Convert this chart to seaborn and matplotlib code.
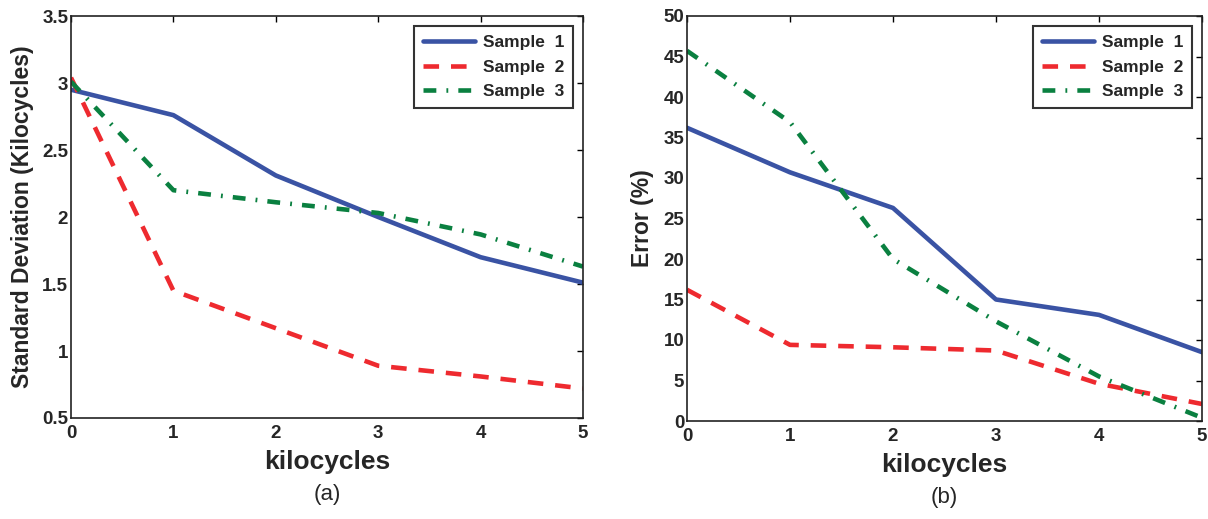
import matplotlib
matplotlib.use('Agg')
import matplotlib.pyplot as plt
import seaborn as sns
import pandas as pd

kilocycles = [0, 1, 2, 3, 4, 5]

# panel (a): standard deviation (kilocycles)
std_s1 = [2.95, 2.76, 2.31, 2.00, 1.70, 1.51]
std_s2 = [3.04, 1.45, 1.17, 0.89, 0.81, 0.72]
std_s3 = [3.01, 2.20, 2.11, 2.03, 1.87, 1.63]

# panel (b): error (%)
err_s1 = [36.2, 30.7, 26.3, 15.0, 13.1, 8.5]
err_s2 = [16.2, 9.4, 9.1, 8.7, 4.6, 2.1]
err_s3 = [45.7, 36.9, 20.0, 12.3, 5.5, 0.4]

series_names = ['Sample  1', 'Sample  2', 'Sample  3']
colors = ['#3a53a4', '#ee2a2f', '#0a8040']
styles = ['-', (0, (3.4, 2.6)), (0, (2.8, 2.2, 0.4, 2.2))]

sns.set_style('white')
plt.rcParams['font.family'] = ['Liberation Sans', 'DejaVu Sans']
plt.rcParams['font.weight'] = 'bold'

fig = plt.figure(figsize=(12.08, 5.19), dpi=100)
ax1 = fig.add_axes([71 / 1208, 1 - 418 / 519, 512 / 1208, 402 / 519])
ax2 = fig.add_axes([687 / 1208, 1 - 421 / 519, 515 / 1208, 405 / 519])


def draw(ax, data, ylim, yticks, ylabel, tag, ylab_x):
    for vals, name, c, ls in zip(data, series_names, colors, styles):
        df = pd.DataFrame({'x': kilocycles, 'y': vals})
        sns.lineplot(data=df, x='x', y='y', ax=ax, color=c, lw=3.3,
                     linestyle=ls, label=name)
    ax.set_xlim(0, 5)
    ax.set_ylim(*ylim)
    ax.set_xticks(kilocycles)
    ax.set_yticks(yticks)
    ax.set_yticklabels([f'{t:g}' for t in yticks])
    ax.tick_params(direction='in', top=True, right=True, length=4.5, width=1,
                   labelsize=13.5, color='black')
    ax.tick_params(axis='y', pad=2)
    ax.tick_params(axis='x', pad=5)
    for lab in ax.get_xticklabels() + ax.get_yticklabels():
        lab.set_fontweight('bold')
    for sp in ax.spines.values():
        sp.set_color('#222222')
        sp.set_linewidth(1.2)
    ax.set_xlabel('kilocycles', fontsize=19, fontweight='bold', labelpad=6)
    ax.set_ylabel(ylabel, fontsize=16.5, fontweight='bold')
    ax.yaxis.set_label_coords(ylab_x, 0.5)
    leg = ax.legend(loc='upper right', fontsize=12.5, frameon=True, fancybox=False,
                    borderaxespad=0.6, handlelength=3.0, handletextpad=0.45,
                    borderpad=0.5, labelspacing=0.53)
    leg.get_frame().set_edgecolor('black')
    leg.get_frame().set_linewidth(1.5)
    for t in leg.get_texts():
        t.set_fontweight('bold')
    ax.text(0.5, -0.19, tag, transform=ax.transAxes, ha='center', va='center',
            fontsize=16, fontweight='normal')


draw(ax1, [std_s1, std_s2, std_s3], (0.5, 3.5), [0.5, 1, 1.5, 2, 2.5, 3, 3.5],
     'Standard Deviation (Kilocycles)', '(a)', -37 / 512)
draw(ax2, [err_s1, err_s2, err_s3], (0, 50), [0, 5, 10, 15, 20, 25, 30, 35, 40, 45, 50],
     'Error (%)', '(b)', -33 / 515)

fig.savefig('out.png', dpi=100)
